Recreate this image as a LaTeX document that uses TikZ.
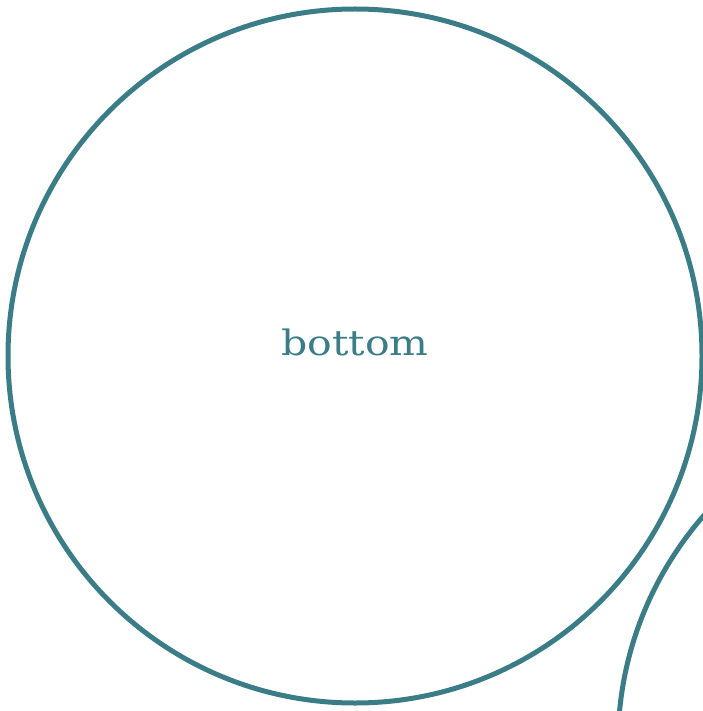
\documentclass[tikz,border=0pt]{standalone}
\usepackage{fontspec}
\setmainfont{DejaVu Serif}
\definecolor{teal}{RGB}{59,125,135}
\tikzset{
  bubble/.style={circle, draw=teal, line width=5pt, minimum size=694pt, inner sep=0pt},
  lbl/.style={text=teal, font=\fontsize{35}{42}\selectfont, inner sep=0pt, xscale=1.17, transform shape}
}
\begin{document}
\begin{tikzpicture}[x=1pt,y=1pt]
\useasboundingbox (0,0) rectangle (702,-711);
\fill[white] (0,0) rectangle (702,-711);
\node[bubble] (bottom) at (355,-356) {};
\node[bubble] (other) at (965,-744) {};
\node[lbl] (bottomlabel) at (355,-342) {bottom};
\end{tikzpicture}
\end{document}
